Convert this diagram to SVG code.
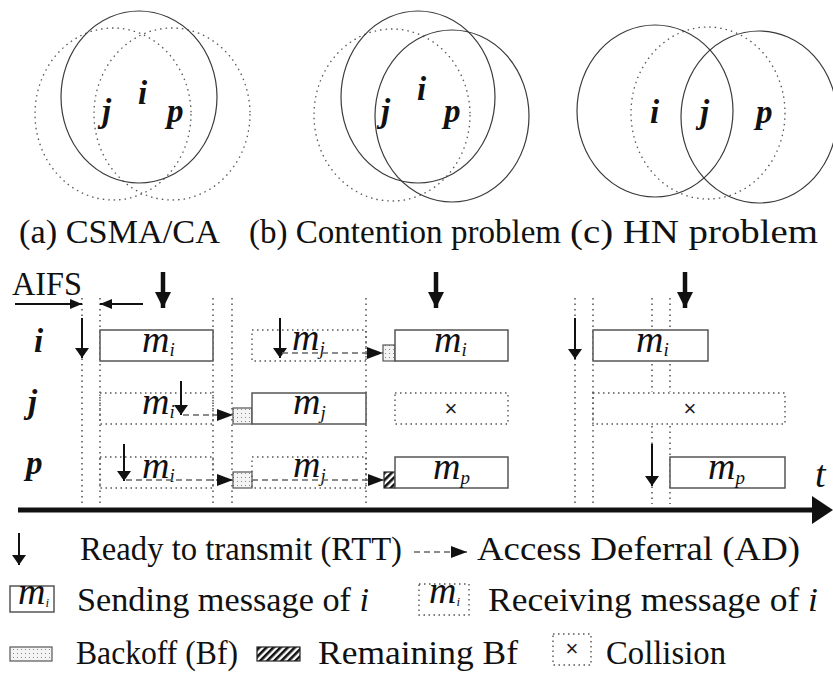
<svg xmlns="http://www.w3.org/2000/svg" width="833" height="673" viewBox="0 0 833 673">
  <style>
    .solidC { fill: none; stroke: #3a3a3a; stroke-width: 1.2; }
    .dotC { fill: none; stroke: #555; stroke-width: 1.3; stroke-dasharray: 1.5 4; }
    .node { font-family: "Liberation Serif", serif; font-weight: bold; font-style: italic; font-size: 33px; fill: #111; }
    .cap { font-family: "Liberation Serif", serif; font-size: 33px; fill: #111; }
    .leg { font-family: "Liberation Serif", serif; font-size: 34px; fill: #111; }
    .msg { font-family: "Liberation Serif", serif; font-style: italic; font-size: 38px; fill: #111; }
    .sub { font-size: 19px; }
    .vgrid { stroke: #444; stroke-width: 1.4; stroke-dasharray: 1.5 4; }
    .sendBox { fill: #fff; stroke: #555; stroke-width: 1.5; }
    .recvBox { fill: none; stroke: #555; stroke-width: 1.4; stroke-dasharray: 1.5 3.5; }
    .bf { fill: url(#dots); stroke: #555; stroke-width: 1.2; }
    .rbf { fill: url(#hatch); stroke: #222; stroke-width: 1.2; }
    .rtt { stroke: #111; stroke-width: 2; fill: none; }
    .big { stroke: #111; stroke-width: 4.5; fill: none; }
    .ad { stroke: #666; stroke-width: 1.6; stroke-dasharray: 6 4; fill: none; }
    .x { font-family: "Liberation Sans", sans-serif; font-size: 22px; fill: #222; }
  </style>
  <defs>
    <pattern id="dots" width="4" height="4" patternUnits="userSpaceOnUse">
      <rect width="4" height="4" fill="#f4f4f4"/>
      <rect x="1" y="1" width="1" height="1" fill="#888"/>
    </pattern>
    <pattern id="hatch" width="5" height="5" patternUnits="userSpaceOnUse" patternTransform="rotate(45)">
      <rect width="5" height="5" fill="#fff"/>
      <rect width="2.6" height="5" fill="#111"/>
    </pattern>
    <marker id="headThin" viewBox="0 0 10 14" refX="10" refY="7" markerWidth="10" markerHeight="14" markerUnits="userSpaceOnUse" orient="auto">
      <path d="M0,0 L10,7 L0,14 Z" fill="#111"/>
    </marker>
    <marker id="headBig" viewBox="0 0 16 16" refX="16" refY="8" markerWidth="16" markerHeight="16" markerUnits="userSpaceOnUse" orient="auto">
      <path d="M0,0 L16,8 L0,16 Z" fill="#111"/>
    </marker>
    <marker id="headAD" viewBox="0 0 16 12" refX="16" refY="6" markerWidth="16" markerHeight="12" markerUnits="userSpaceOnUse" orient="auto">
      <path d="M0,0 L16,6 L0,12 Z" fill="#111"/>
    </marker>
    <marker id="headAIFS" viewBox="0 0 12 10" refX="12" refY="5" markerWidth="12" markerHeight="10" markerUnits="userSpaceOnUse" orient="auto">
      <path d="M0,0 L12,5 L0,10 Z" fill="#111"/>
    </marker>
  </defs>

  <!-- (a) CSMA/CA ranges -->
  <g id="scenario-a">
    <ellipse class="dotC" cx="113" cy="114" rx="78" ry="86"/>
    <ellipse class="dotC" cx="172" cy="114" rx="78" ry="86"/>
    <ellipse class="solidC" cx="139" cy="97" rx="78" ry="86"/>
    <text class="node" x="102" y="122">j</text>
    <text class="node" x="138" y="104">i</text>
    <text class="node" x="167" y="122">p</text>
    <text class="cap" x="19" y="243" textLength="201" lengthAdjust="spacingAndGlyphs">(a) CSMA/CA</text>
  </g>

  <!-- (b) Contention problem ranges -->
  <g id="scenario-b">
    <ellipse class="dotC" cx="392" cy="115" rx="78" ry="86"/>
    <ellipse class="solidC" cx="418" cy="97" rx="77" ry="86"/>
    <ellipse class="solidC" cx="452" cy="116" rx="77" ry="86"/>
    <text class="node" x="381" y="122">j</text>
    <text class="node" x="417" y="100">i</text>
    <text class="node" x="444" y="122">p</text>
    <text class="cap" x="249" y="243" textLength="312" lengthAdjust="spacingAndGlyphs">(b) Contention problem</text>
  </g>

  <!-- (c) HN problem ranges -->
  <g id="scenario-c">
    <ellipse class="dotC" cx="708" cy="113" rx="77" ry="86"/>
    <ellipse class="solidC" cx="655" cy="111" rx="78" ry="86"/>
    <ellipse class="solidC" cx="759" cy="117" rx="78" ry="86"/>
    <text class="node" x="650" y="123">i</text>
    <text class="node" x="700" y="123">j</text>
    <text class="node" x="756" y="123">p</text>
    <text class="cap" x="570" y="243" textLength="248" lengthAdjust="spacingAndGlyphs">(c) HN problem</text>
  </g>

  <!-- timing grid -->
  <g id="grid">
    <line class="vgrid" x1="82" y1="298" x2="82" y2="504"/>
    <line class="vgrid" x1="100" y1="298" x2="100" y2="504"/>
    <line class="vgrid" x1="213" y1="298" x2="213" y2="504"/>
    <line class="vgrid" x1="232" y1="298" x2="232" y2="504"/>
    <line class="vgrid" x1="366" y1="298" x2="366" y2="504"/>
    <line class="vgrid" x1="575" y1="298" x2="575" y2="504"/>
    <line class="vgrid" x1="593" y1="298" x2="593" y2="504"/>
    <line class="vgrid" x1="652" y1="298" x2="652" y2="392"/>
    <line class="vgrid" x1="652" y1="426" x2="652" y2="504"/>
    <line class="vgrid" x1="670" y1="298" x2="670" y2="392"/>
    <line class="vgrid" x1="670" y1="426" x2="670" y2="504"/>
  </g>

  <!-- AIFS span -->
  <g id="aifs">
    <text class="cap" x="12" y="295" textLength="70" lengthAdjust="spacingAndGlyphs">AIFS</text>
    <line class="rtt" x1="15" y1="304" x2="82" y2="304" stroke-width="1.6" marker-end="url(#headAIFS)"/>
    <line class="rtt" x1="143" y1="304" x2="100" y2="304" stroke-width="1.6" marker-end="url(#headAIFS)"/>
  </g>

  <!-- station labels -->
  <g id="station-i"><text class="node" x="34" y="352">i</text></g>
  <g id="station-j"><text class="node" x="28" y="413">j</text></g>
  <g id="station-p"><text class="node" x="26" y="474">p</text></g>

  <!-- frames, row i -->
  <g id="i-a-send">
    <rect class="sendBox" x="100" y="330" width="113" height="31"/>
    <text class="msg" x="142" y="352">m<tspan class="sub" dy="4">i</tspan></text>
  </g>
  <g id="i-b-recv">
    <rect class="recvBox" x="252" y="330" width="114" height="31"/>
    <text class="msg" x="292" y="350">m<tspan class="sub" dy="5">j</tspan></text>
  </g>
  <g id="i-b-bf"><rect class="bf" x="383" y="345" width="12" height="16"/></g>
  <g id="i-b-send">
    <rect class="sendBox" x="395" y="330" width="113" height="31"/>
    <text class="msg" x="434" y="352">m<tspan class="sub" dy="4">i</tspan></text>
  </g>
  <g id="i-c-send">
    <rect class="sendBox" x="593" y="330" width="115" height="31"/>
    <text class="msg" x="636" y="352">m<tspan class="sub" dy="4">i</tspan></text>
  </g>

  <!-- frames, row j -->
  <g id="j-a-recv">
    <rect class="recvBox" x="100" y="393" width="113" height="31"/>
    <text class="msg" x="142" y="414">m<tspan class="sub" dy="4">i</tspan></text>
  </g>
  <g id="j-a-bf"><rect class="bf" x="233" y="408" width="19" height="16"/></g>
  <g id="j-a-send">
    <rect class="sendBox" x="252" y="393" width="114" height="31"/>
    <text class="msg" x="293" y="414">m<tspan class="sub" dy="5">j</tspan></text>
  </g>
  <g id="j-b-coll">
    <rect class="recvBox" x="395" y="393" width="113" height="31"/>
    <text class="x" x="451" y="416" text-anchor="middle">×</text>
  </g>
  <g id="j-c-coll">
    <rect class="recvBox" x="593" y="393" width="192" height="31"/>
    <text class="x" x="690" y="416" text-anchor="middle">×</text>
  </g>

  <!-- frames, row p -->
  <g id="p-a-recv">
    <rect class="recvBox" x="100" y="457" width="113" height="31"/>
    <text class="msg" x="142" y="478">m<tspan class="sub" dy="4">i</tspan></text>
  </g>
  <g id="p-a-bf"><rect class="bf" x="233" y="472" width="19" height="16"/></g>
  <g id="p-a-recv2">
    <rect class="recvBox" x="252" y="457" width="114" height="31"/>
    <text class="msg" x="293" y="477">m<tspan class="sub" dy="5">j</tspan></text>
  </g>
  <g id="p-b-rbf"><rect class="rbf" x="384" y="472" width="11" height="16"/></g>
  <g id="p-b-send">
    <rect class="sendBox" x="395" y="457" width="113" height="31"/>
    <text class="msg" x="433" y="479">m<tspan class="sub" dy="5">p</tspan></text>
  </g>
  <g id="p-c-send">
    <rect class="sendBox" x="670" y="457" width="115" height="31"/>
    <text class="msg" x="708" y="479">m<tspan class="sub" dy="5">p</tspan></text>
  </g>

  <!-- connectors: RTT arrows, deferrals, time axis -->
  <g id="connectors">
    <line class="big" x1="163" y1="272" x2="163" y2="308" marker-end="url(#headBig)"/>
    <line class="big" x1="436" y1="272" x2="436" y2="308" marker-end="url(#headBig)"/>
    <line class="big" x1="685" y1="272" x2="685" y2="308" marker-end="url(#headBig)"/>

    <line class="rtt" x1="82" y1="318" x2="82" y2="358" marker-end="url(#headThin)"/>
    <line class="rtt" x1="280" y1="318" x2="280" y2="358" marker-end="url(#headThin)"/>
    <line class="rtt" x1="181" y1="381" x2="181" y2="415" marker-end="url(#headThin)"/>
    <line class="rtt" x1="124" y1="444" x2="124" y2="481" marker-end="url(#headThin)"/>
    <line class="rtt" x1="575" y1="318" x2="575" y2="359" marker-end="url(#headThin)"/>
    <line class="rtt" x1="652" y1="444" x2="652" y2="486" marker-end="url(#headThin)"/>

    <line class="ad" x1="282" y1="353" x2="383" y2="353" marker-end="url(#headAD)"/>
    <line class="ad" x1="183" y1="415" x2="233" y2="415" marker-end="url(#headAD)"/>
    <line class="ad" x1="126" y1="480" x2="233" y2="480" marker-end="url(#headAD)"/>
    <line class="ad" x1="252" y1="480" x2="384" y2="480" marker-end="url(#headAD)"/>

    <line x1="18" y1="510" x2="816" y2="510" stroke="#111" stroke-width="5"/>
    <path d="M812,496 L833,510 L812,524 Z" fill="#111"/>
    <text class="msg" x="815" y="487" font-size="32">t</text>
  </g>

  <!-- legend -->
  <g id="legend">
    <line class="rtt" x1="19" y1="533" x2="19" y2="565" marker-end="url(#headThin)"/>
    <text class="leg" x="80" y="560" textLength="322" lengthAdjust="spacingAndGlyphs">Ready to transmit (RTT)</text>
    <line class="ad" x1="414" y1="552" x2="467" y2="552" stroke="#111" stroke-dasharray="5 3" marker-end="url(#headAD)"/>
    <text class="leg" x="477" y="560" textLength="323" lengthAdjust="spacingAndGlyphs">Access Deferral (AD)</text>

    <rect class="sendBox" x="10" y="586" width="44" height="26"/>
    <text class="msg" x="18" y="604" font-size="24">m<tspan font-size="13" dy="3">i</tspan></text>
    <text class="leg" x="77" y="611" textLength="292" lengthAdjust="spacingAndGlyphs">Sending message of <tspan font-style="italic">i</tspan></text>
    <rect class="recvBox" x="419" y="584" width="50" height="31"/>
    <text class="msg" x="429" y="603" font-size="24">m<tspan font-size="13" dy="3">i</tspan></text>
    <text class="leg" x="488" y="611" textLength="330" lengthAdjust="spacingAndGlyphs">Receiving message of <tspan font-style="italic">i</tspan></text>

    <rect class="bf" x="10" y="647" width="42" height="14"/>
    <text class="leg" x="76" y="664" textLength="162" lengthAdjust="spacingAndGlyphs">Backoff (Bf)</text>
    <rect class="rbf" x="257" y="647" width="43" height="14"/>
    <text class="leg" x="318" y="664" textLength="200" lengthAdjust="spacingAndGlyphs">Remaining Bf</text>
    <rect class="recvBox" x="553" y="634" width="38" height="31"/>
    <text class="x" x="572" y="656" text-anchor="middle" font-size="18">×</text>
    <text class="leg" x="606" y="664" textLength="120" lengthAdjust="spacingAndGlyphs">Collision</text>
  </g>
</svg>
